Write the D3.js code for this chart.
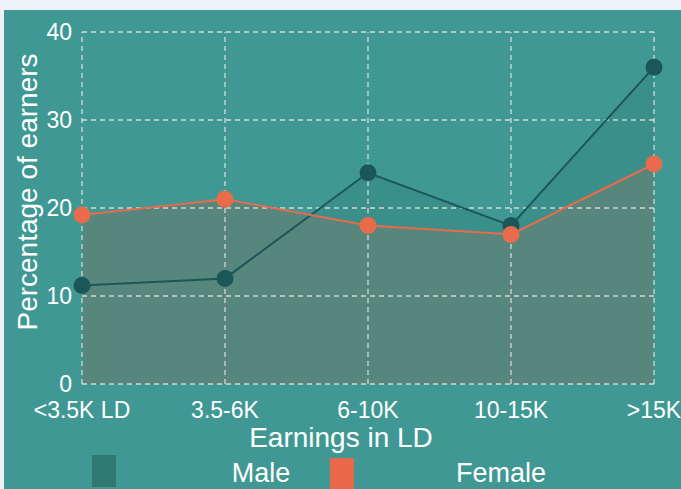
<!DOCTYPE html>
<html>
<head>
<meta charset="utf-8">
<script src="https://cdn.jsdelivr.net/npm/d3@7"></script>
<style>
  html, body { margin: 0; padding: 0; background: #f0f1f6; }
  svg { display: block; }
  text { font-family: "Liberation Sans", Arial, sans-serif; fill: #fff; }
</style>
</head>
<body>
<div id="chart"></div>
<script>
// ========== Data ==========
const categories = ["<3.5K LD", "3.5-6K", "6-10K", "10-15K", ">15K"];
const maleValues = [11.2, 12, 24, 18, 36];
const femaleValues = [19.2, 21, 18, 17, 25];
const yTicks = [0, 10, 20, 30, 40];
const seriesNames = ["Male", "Female"];

// ========== Chart ==========
const W = 681, H = 489;
const svg = d3.select("#chart").append("svg").attr("width", W).attr("height", H);

// teal panel
svg.append("rect").attr("x", 4).attr("y", 10).attr("width", W - 4).attr("height", H - 10)
    .attr("fill", "#3f9894");

const x = d3.scalePoint().domain(categories).range([82, 654]);
const y = d3.scaleLinear().domain([0, 40]).range([384, 32]);

const g = svg.append("g");

// Areas (male first, female over it)
const area = d3.area().x((d, i) => x(categories[i])).y0(y(0)).y1(d => y(d));
const line = d3.line().x((d, i) => x(categories[i])).y(d => y(d));

g.append("path").datum(maleValues).attr("d", area)
    .attr("fill", "#36857f").attr("fill-opacity", 0.5);
g.append("path").datum(femaleValues).attr("d", area)
    .attr("fill", "#57867c");

// Grid
const grid = g.append("g").attr("stroke", "#f5ece6").attr("stroke-opacity", 0.8)
    .attr("stroke-width", 1.3).attr("stroke-dasharray", "5,4");
grid.selectAll(".hg").data(yTicks).enter().append("line")
    .attr("x1", x.range()[0]).attr("x2", x.range()[1])
    .attr("y1", d => y(d)).attr("y2", d => y(d));
grid.selectAll(".vg").data(categories).enter().append("line")
    .attr("x1", d => x(d)).attr("x2", d => x(d))
    .attr("y1", y(0)).attr("y2", y(40));

// Lines + dots
g.append("path").datum(maleValues).attr("d", line)
    .attr("fill", "none").attr("stroke", "#1b5659").attr("stroke-width", 2);
g.append("path").datum(femaleValues).attr("d", line)
    .attr("fill", "none").attr("stroke", "#e86b4b").attr("stroke-width", 2);

g.selectAll(".mdot").data(maleValues).enter().append("circle")
    .attr("cx", (d, i) => x(categories[i])).attr("cy", d => y(d)).attr("r", 8.5)
    .attr("fill", "#1b5659");
g.selectAll(".fdot").data(femaleValues).enter().append("circle")
    .attr("cx", (d, i) => x(categories[i])).attr("cy", d => y(d)).attr("r", 8.5)
    .attr("fill", "#e86b4b");

// Y tick labels
g.selectAll(".ytick").data(yTicks).enter().append("text")
    .attr("x", 72).attr("y", d => y(d)).attr("dy", "0.36em")
    .attr("text-anchor", "end").attr("font-size", 23).text(d => d);

// X tick labels
g.selectAll(".xtick").data(categories).enter().append("text")
    .attr("x", d => x(d)).attr("y", 418)
    .attr("text-anchor", "middle").attr("font-size", 23).text(d => d);

// Axis titles
svg.append("text").attr("transform", "translate(37,192) rotate(-90)")
    .attr("text-anchor", "middle").attr("font-size", 28).text("Percentage of earners");
svg.append("text").attr("x", 341).attr("y", 447)
    .attr("text-anchor", "middle").attr("font-size", 28).text("Earnings in LD");

// Legend
const legendColors = ["#2f7a70", "#e8694a"];
const legendBoxX = [92, 330];
const legendTextX = [261, 501];
seriesNames.forEach((name, i) => {
    svg.append("rect").attr("x", legendBoxX[i]).attr("y", 455 + i * 3)
        .attr("width", 24).attr("height", 32).attr("fill", legendColors[i]);
    svg.append("text").attr("x", legendTextX[i]).attr("y", 482)
        .attr("text-anchor", "middle").attr("font-size", 27).text(name);
});
</script>
</body>
</html>
